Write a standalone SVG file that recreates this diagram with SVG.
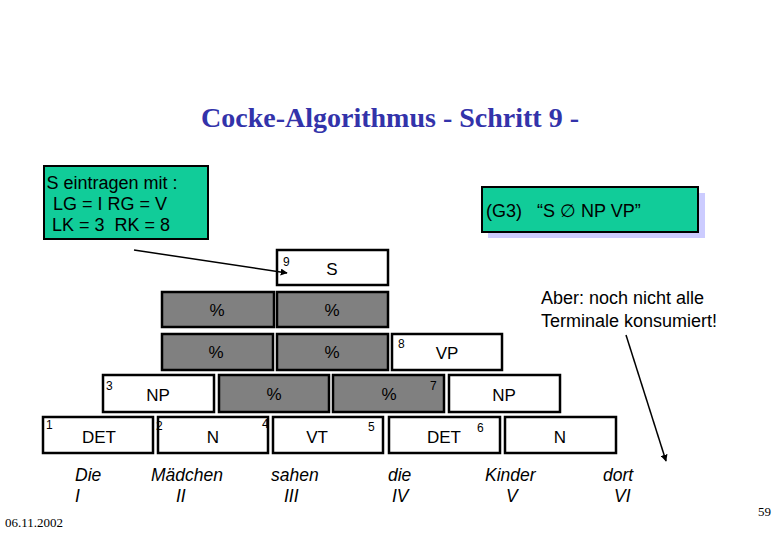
<svg xmlns="http://www.w3.org/2000/svg" width="780" height="540" viewBox="0 0 780 540">
<style>
.box{fill:#fff;stroke:#000;stroke-width:2.5}
.g{fill:#808080;stroke:#000;stroke-width:2.5}
.lbl{font-family:"Liberation Sans",Arial,sans-serif;font-size:17px;text-anchor:middle;fill:#000}
.num{font-family:"Liberation Sans",Arial,sans-serif;font-size:12px;fill:#000}
.w{font-family:"Liberation Sans",Arial,sans-serif;font-size:17.5px;font-style:italic;fill:#000}
.t{font-family:"Liberation Sans",Arial,sans-serif;font-size:18px;fill:#000}
.ser{font-family:"Liberation Serif","Times New Roman",serif;font-size:13px;fill:#000}
.con{stroke:#000;stroke-width:1.5;fill:none;marker-end:url(#ah)}
</style>
<defs>
<marker id="ah" viewBox="0 0 10 10" refX="9" refY="5" markerWidth="7" markerHeight="7" orient="auto" markerUnits="userSpaceOnUse"><path d="M0,0 L10,5 L0,10 z" fill="#000"/></marker>
</defs>
<rect width="780" height="540" fill="#fff"/>
<text x="390" y="127" text-anchor="middle" font-family="'Liberation Serif','Times New Roman',serif" font-size="28" font-weight="bold" fill="#3333aa">Cocke-Algorithmus - Schritt 9 -</text>

<g id="note-left">
<rect x="44" y="166" width="164" height="73" fill="#11cc99" stroke="#000" stroke-width="2"/>
<text class="t" x="112" y="189" text-anchor="middle">S eintragen mit :</text>
<text class="t" x="110" y="210" text-anchor="middle">LG = I RG = V</text>
<text class="t" x="111" y="231" text-anchor="middle" xml:space="preserve">LK = 3  RK = 8</text>
</g>
<g id="note-rule">
<rect x="488" y="193" width="217" height="45" fill="#ccccff"/>
<rect x="482" y="187" width="216" height="45" fill="#11cc99" stroke="#000" stroke-width="2"/>
<text class="t" x="486" y="217" xml:space="preserve">(G3)   “S ∅ NP VP”</text>
</g>
<g id="note-right">
<text class="t" x="541" y="304">Aber: noch nicht alle</text>
<text class="t" x="541" y="327">Terminale konsumiert!</text>
</g>

<g id="n-S"><rect class="box" x="277" y="250" width="111" height="35"/><text class="lbl" x="332" y="275">S</text><text class="num" x="283" y="266">9</text></g>
<g id="n-r2a"><rect class="g" x="162" y="292" width="112" height="35"/><text class="lbl" x="217" y="316">%</text></g>
<g id="n-r2b"><rect class="g" x="277" y="292" width="111" height="35"/><text class="lbl" x="332" y="316">%</text></g>
<g id="n-r3a"><rect class="g" x="162" y="334" width="111" height="36"/><text class="lbl" x="216" y="358">%</text></g>
<g id="n-r3b"><rect class="g" x="277" y="334" width="111" height="36"/><text class="lbl" x="332" y="358">%</text></g>
<g id="n-VP"><rect class="box" x="392" y="334" width="110" height="36"/><text class="lbl" x="447" y="359">VP</text><text class="num" x="398" y="348">8</text></g>
<g id="n-NP1"><rect class="box" x="103" y="375" width="111" height="37"/><text class="lbl" x="158" y="401">NP</text><text class="num" x="106" y="390">3</text></g>
<g id="n-r4b"><rect class="g" x="219" y="375" width="110" height="37"/><text class="lbl" x="274" y="400">%</text></g>
<g id="n-r4c"><rect class="g" x="333" y="375" width="111" height="37"/><text class="lbl" x="389" y="400">%</text><text class="num" x="430" y="390">7</text></g>
<g id="n-NP2"><rect class="box" x="449" y="375" width="111" height="37"/><text class="lbl" x="504" y="401">NP</text></g>
<g id="n-DET1"><rect class="box" x="43" y="417" width="110" height="36"/><text class="lbl" x="99" y="443">DET</text><text class="num" x="46" y="429">1</text></g>
<g id="n-N1"><rect class="box" x="158" y="417" width="110" height="36"/><text class="lbl" x="213" y="443">N</text><text class="num" x="156" y="430">2</text><text class="num" x="262" y="428">4</text></g>
<g id="n-VT"><rect class="box" x="273" y="417" width="110" height="36"/><text class="lbl" x="317" y="443">VT</text><text class="num" x="368" y="431">5</text></g>
<g id="n-DET2"><rect class="box" x="389" y="417" width="111" height="36"/><text class="lbl" x="444" y="443">DET</text><text class="num" x="477" y="432">6</text></g>
<g id="n-N2"><rect class="box" x="505" y="417" width="111" height="36"/><text class="lbl" x="560" y="443">N</text></g>

<g id="words">
<text class="w" x="75" y="481">Die</text><text class="w" x="75" y="502">I</text>
<text class="w" x="151" y="481">Mädchen</text><text class="w" x="176" y="502">II</text>
<text class="w" x="271" y="481">sahen</text><text class="w" x="284" y="502">III</text>
<text class="w" x="388" y="481">die</text><text class="w" x="392" y="502">IV</text>
<text class="w" x="485" y="481">Kinder</text><text class="w" x="506" y="502">V</text>
<text class="w" x="603" y="481">dort</text><text class="w" x="614" y="502">VI</text>
</g>

<g id="connectors">
<line class="con" x1="134" y1="250" x2="287" y2="273"/>
<line class="con" x1="626" y1="335" x2="666" y2="461"/>
</g>

<text class="ser" x="5" y="527">06.11.2002</text>
<text class="ser" x="758" y="516">59</text>
</svg>
